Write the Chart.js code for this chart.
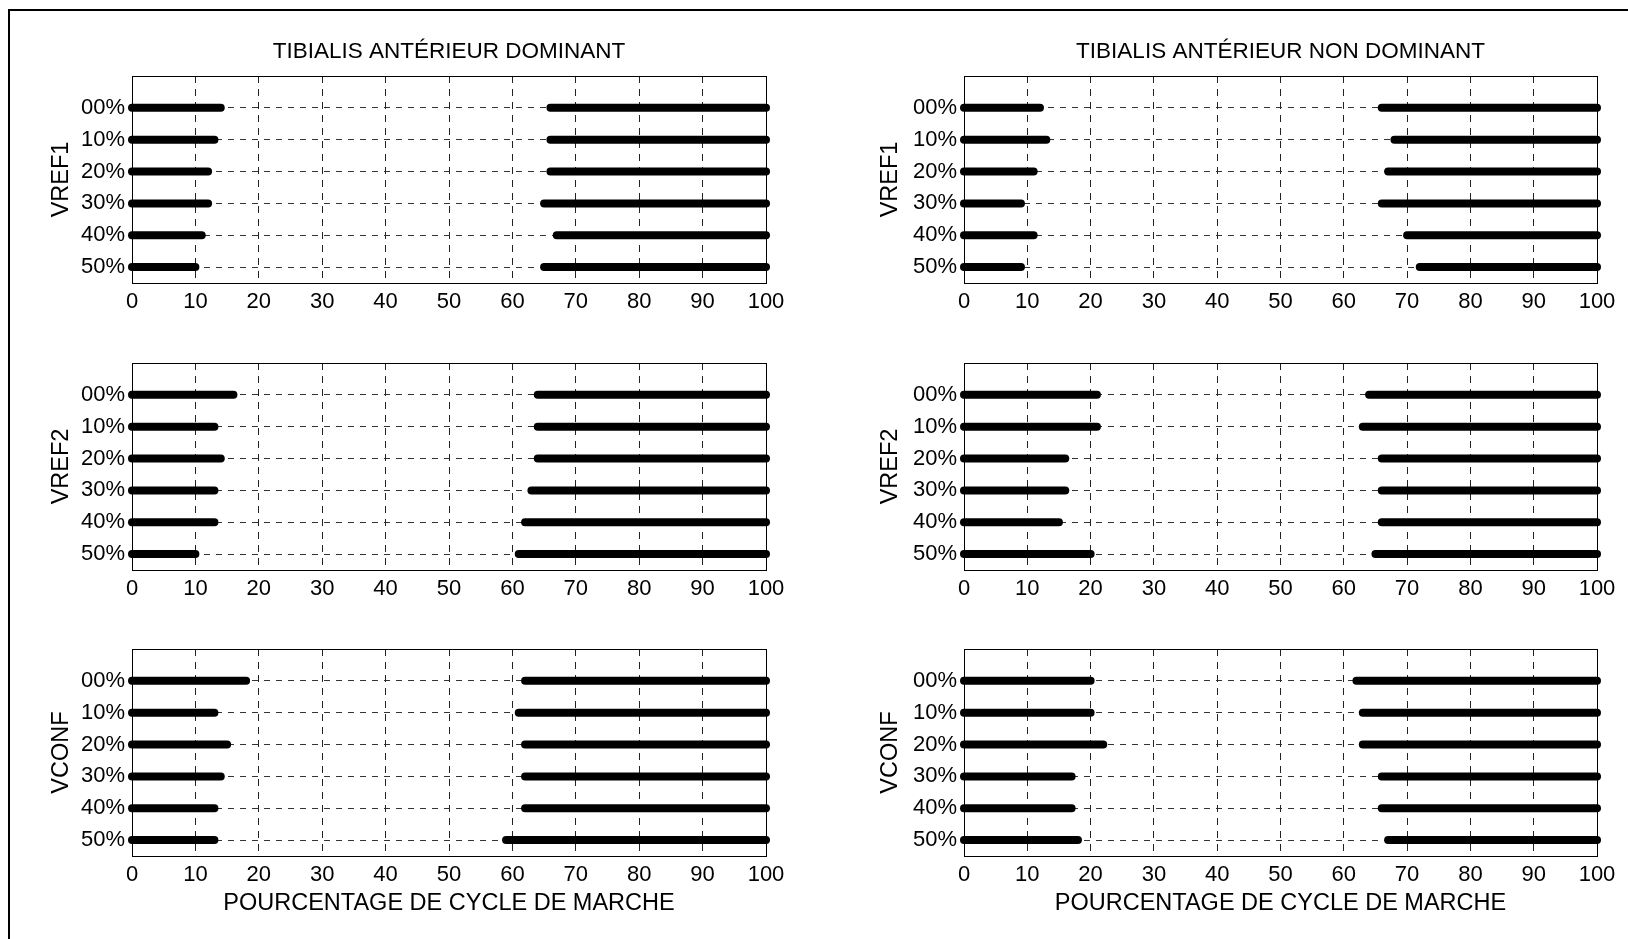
<!DOCTYPE html>
<html>
<head>
<meta charset="utf-8">
<script src="https://cdn.jsdelivr.net/npm/chart.js@4.4.1/dist/chart.umd.min.js"></script>
<style>
  html, body { margin: 0; padding: 0; background: #fff; overflow: hidden; }
  #frame {
    position: absolute; left: 8px; top: 9px; width: 1700px; height: 1000px;
    border-left: 2px solid #000; border-top: 2px solid #000;
  }
  canvas { position: absolute; }
</style>
</head>
<body>
<div id="frame"></div>
<div id="panels"></div>
<script>
const rowLabels = ["00%", "10%", "20%", "30%", "40%", "50%"];
const conditionLabels = ["VREF1", "VREF2", "VCONF"];
const sideTitles = ["TIBIALIS ANTÉRIEUR DOMINANT", "TIBIALIS ANTÉRIEUR NON DOMINANT"];
const xAxisTitle = "POURCENTAGE DE CYCLE DE MARCHE";
const xTickValues = [0, 10, 20, 30, 40, 50, 60, 70, 80, 90, 100];

// end of the first burst and start of the second one (% of gait cycle), rows 00% .. 50%
const domVref1End = [14, 13, 12, 12, 11, 10];
const domVref1Start = [66, 66, 66, 65, 67, 65];
const domVref2End = [16, 13, 14, 13, 13, 10];
const domVref2Start = [64, 64, 64, 63, 62, 61];
const domVconfEnd = [18, 13, 15, 14, 13, 13];
const domVconfStart = [62, 61, 62, 62, 62, 59];
const nonVref1End = [12, 13, 11, 9, 11, 9];
const nonVref1Start = [66, 68, 67, 66, 70, 72];
const nonVref2End = [21, 21, 16, 16, 15, 20];
const nonVref2Start = [64, 63, 66, 66, 66, 65];
const nonVconfEnd = [20, 20, 22, 17, 17, 18];
const nonVconfStart = [62, 63, 63, 66, 66, 67];

const panelData = [
  [[domVref1End, domVref1Start], [nonVref1End, nonVref1Start]],
  [[domVref2End, domVref2Start], [nonVref2End, nonVref2Start]],
  [[domVconfEnd, domVconfStart], [nonVconfEnd, nonVconfStart]],
];

// layout (px)
const columns = [
  { plotLeft: 132, plotRight: 766, yTitlePad: 35 },
  { plotLeft: 964, plotRight: 1597, yTitlePad: 32 },
];
const rowTops = [76, 363, 649];
const plotHeight = 207;
const topSpace = 56;
const titleAxisHeight = 40;
const yAxisWidth = 120;
const rightPad = 30;

const FONT = "'Liberation Sans', Arial, Helvetica, sans-serif";
const tickFont = { family: FONT, size: 22, lineHeight: 1.2 };
const labelFont = { family: FONT, size: 23.5, lineHeight: 1.2 };
const titleFont = { family: FONT, size: 22.5, lineHeight: 1.2 };

Chart.defaults.color = "#000";
Chart.defaults.font.family = FONT;

const framePlugin = {
  id: "frame",
  afterDatasetsDraw(chart) {
    const { ctx, chartArea } = chart;
    ctx.save();
    ctx.strokeStyle = "#000";
    ctx.lineWidth = 1;
    ctx.strokeRect(Math.round(chartArea.left) + 0.5, Math.round(chartArea.top) + 0.5,
      Math.round(chartArea.right - chartArea.left), Math.round(chartArea.bottom - chartArea.top));
    ctx.restore();
  },
};

function burstDatasets(ends, starts) {
  const sets = [];
  rowLabels.forEach((label, i) => {
    const y = rowLabels.length - i;
    sets.push({ data: [{ x: 0, y }, { x: ends[i], y }] });
    sets.push({ data: [{ x: starts[i], y }, { x: 100, y }] });
  });
  return sets.map((set) => ({
    ...set,
    borderColor: "#000",
    borderWidth: 8,
    borderCapStyle: "round",
    pointRadius: 0,
    clip: false,
  }));
}

function makePanel(row, col) {
  const c = columns[col];
  const isFirst = row === 0;
  const isLast = row === rowTops.length - 1;
  const xAxisHeight = isLast ? 74 : 42;
  const canvas = document.createElement("canvas");
  const left = c.plotLeft - yAxisWidth;
  const top = rowTops[row] - topSpace;
  const width = c.plotRight - left + rightPad;
  const height = topSpace + plotHeight + xAxisHeight;
  canvas.width = width;
  canvas.height = height;
  canvas.style.left = `${left}px`;
  canvas.style.top = `${top}px`;
  canvas.style.width = `${width}px`;
  canvas.style.height = `${height}px`;
  document.querySelector("#panels").appendChild(canvas);

  const [ends, starts] = panelData[row][col];

  const scales = {
    x: {
      type: "linear",
      min: 0,
      max: 100,
      afterBuildTicks: (scale) => { scale.ticks = xTickValues.map((value) => ({ value })); },
      afterFit: (scale) => { scale.height = xAxisHeight; },
      ticks: { font: tickFont, color: "#000", padding: 6, maxRotation: 0, autoSkip: false },
      grid: { color: "#222", lineWidth: 1, drawTicks: false },
      border: { display: false, dash: [7, 6] },
      title: {
        display: isLast,
        text: xAxisTitle,
        color: "#000",
        font: labelFont,
        padding: { top: 0, bottom: 12 },
      },
    },
    y: {
      type: "linear",
      min: 0.5,
      max: 7,
      afterBuildTicks: (scale) => {
        scale.ticks = rowLabels.map((label, i) => ({ value: rowLabels.length - i }));
      },
      afterFit: (scale) => { scale.width = yAxisWidth; },
      ticks: {
        font: tickFont,
        color: "#000",
        padding: 7,
        callback: (value) => rowLabels[rowLabels.length - value],
      },
      grid: { color: "#333", lineWidth: 1, drawTicks: false },
      border: { display: false, dash: [6, 6] },
      title: {
        display: true,
        text: conditionLabels[row],
        color: "#000",
        font: labelFont,
        padding: { top: c.yTitlePad, bottom: 0 },
      },
    },
  };

  if (isFirst) {
    // top axis only carries the column title, centred over the plot area
    scales.xTop = {
      type: "linear",
      position: "top",
      min: 0,
      max: 100,
      afterFit: (scale) => { scale.height = titleAxisHeight; },
      ticks: { display: false },
      grid: { display: false, drawTicks: false },
      border: { display: false },
      title: {
        display: true,
        text: sideTitles[col],
        color: "#000",
        font: titleFont,
        padding: { top: 2, bottom: 0 },
      },
    };
  }

  return new Chart(canvas, {
    type: "line",
    data: { datasets: burstDatasets(ends, starts) },
    plugins: [framePlugin],
    options: {
      responsive: false,
      animation: false,
      events: [],
      layout: {
        padding: { top: isFirst ? topSpace - titleAxisHeight : topSpace, right: rightPad, left: 0, bottom: 0 },
      },
      plugins: {
        legend: { display: false },
        tooltip: { enabled: false },
        title: { display: false },
      },
      scales,
    },
  });
}

rowTops.forEach((_, row) => {
  columns.forEach((_, col) => makePanel(row, col));
});
</script>
</body>
</html>
